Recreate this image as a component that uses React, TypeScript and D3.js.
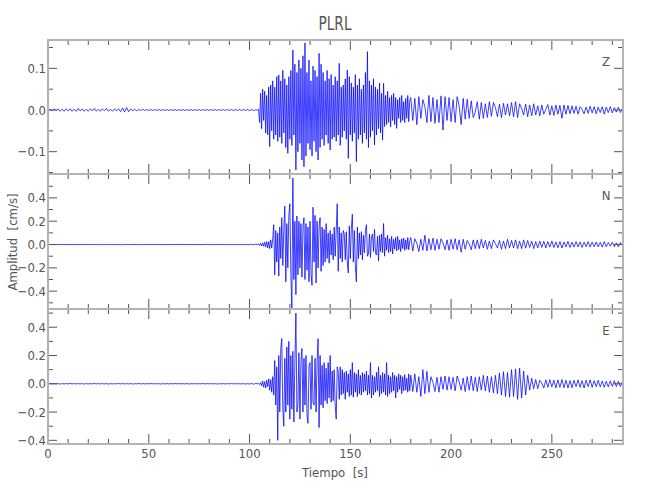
import React from 'react';
import * as d3 from 'd3';

// Station / channel info
const title = 'PLRL';
const channels = ['Z', 'N', 'E'];
const xTickLabels = ['0', '50', '100', '150', '200', '250'];

// Amplitudes in 1e-3 cm/s
// pre-event: t = 0..103 s (1 s step)
const zPre = [
  0, 2, -2, 3, -2, 3, -3, 2, -3, 3,
  -2, 3, -3, 2, -3, 4, -2, 3, -3, 2,
  -3, 3, -2, 4, -3, 2, -3, 3, -2, 4,
  -3, 2, -3, 3, -2, 3, -4, 5, -5, 6,
  -4, 3, -2, 2, -2, 1, -1, 2, -1, 1,
  -1, 1, -1, 1, -1, 1, -1, 1, -1, 1,
  -1, 1, -1, 1, -1, 1, -1, 1, -1, 1,
  -1, 1, -1, 1, -1, 1, -1, 1, -1, 1,
  -1, 1, -1, 1, -1, 1, -1, 1, -1, 1,
  -1, 1, -1, 1, -1, 1, -1, 1, -1, 1,
  -1, 1, -1, 0,
];
// main phase: t = 104..179.5 s (0.5 s step)
const zMain = [
  0, 2, -30, 40, -45, 50, -25, 45, -55, 35,
  -60, 55, -88, 60, -50, 70, -70, 55, -60, 80,
  -75, 84, -65, 70, -80, 95, -55, 75, -90, 60,
  -104, 80, -70, 95, -85, 144, -60, 110, -144, 90,
  -100, 120, -80, 100, -120, 130, -136, 161, -110, 90,
  -80, 120, -95, 70, -110, 105, -75, 95, -100, 80,
  -120, 136, -90, 110, -70, 90, -85, 70, -60, 95,
  -80, 75, -96, 85, -70, 60, -65, 80, -75, 70,
  -60, 112, -85, 55, -65, 60, -50, 75, -70, 96,
  -116, 80, -60, 65, -75, 55, -55, 85, -124, 60,
  -70, 75, -60, 50, -80, 60, -55, 90, -70, 140,
  -90, 70, -65, 60, -50, 75, -84, 55, -60, 50,
  -45, 65, -55, 40, -72, 64, -40, 35, -35, 45,
  -30, 30, -40, 35, -25, 40, -35, 30, -44, 25,
  -20, 30, -30, 35, -25, 20, -30, 28, -20, 35,
  -28, 25,
];
// coda: t = 180..285 s (1 s step)
const zCoda = [
  30, -25, 28, -35, 32, -20, 25, 8, -30, 35,
  -28, 30, -32, 25, -30, 34, -48, 32, -25, 30,
  -28, 25, -30, 32, 10, -35, 28, -22, 26, -20,
  22, -18, -5, 20, -22, 18, -20, 15, -18, 20,
  -15, 18, 6, -16, 14, -18, 16, -12, 15, -14,
  18, -16, 20, -18, 15, 4, -12, 14, -16, 12,
  -14, 15, -12, 10, -14, 12, -10, 2, 13, -12,
  10, -13, 12, -10, 11, -20, 12, -10, 11, -9,
  10, -8, 9, -10, 8, 2, -9, 7, -8, 9,
  -7, 8, -9, 7, -6, 8, -10, 7, -6, 8,
  -7, 6, -5, 7, -6, 4,
];

const nPre = [
  0, 1, -1, 1, -1, 2, -1, 1, -1, 1,
  -1, 1, -2, 1, -1, 1, -1, 2, -1, 1,
  -1, 1, -1, 1, -2, 1, -1, 1, -1, 2,
  -1, 1, -1, 2, -1, 1, -2, 1, -1, 1,
  -1, 2, -1, 1, -1, 1, -2, 1, -1, 1,
  -1, 1, -1, 2, -1, 1, -1, 1, -2, 1,
  -1, 1, -1, 1, -1, 2, -1, 1, -1, 1,
  -1, 1, -2, 1, -1, 1, -1, 1, -1, 2,
  -1, 1, -1, 1, -1, 1, -1, 1, -2, 1,
  -1, 1, -1, 1, -1, 1, -1, 2, -1, 1,
  -2, 2, -3, 3,
];
const nMain = [
  0, 5, -8, 10, -12, 15, -15, 20, -20, 25,
  -30, 25, -35, 40, -30, 50, 170, -260, 120, -150,
  100, -270, 150, -120, 230, -180, 120, 330, -320, 180,
  -200, 250, 350, -250, -550, 570, -300, 200, -430, 245,
  -260, 200, -200, 180, -280, 150, 230, -300, 180, -220,
  150, -320, 200, -250, -350, 320, -150, 250, -330, 200,
  -200, 150, 230, -230, 150, -180, 130, -150, 180, -120,
  100, -160, 120, -90, 90, -130, 150, -100, 120, 350,
  -230, 150, -120, 100, -150, 120, 90, -130, 110, -150,
  -245, 160, -120, 130, 260, -150, 120, -180, -320, 150,
  -120, 100, -90, 110, -130, 80, -70, 120, 170, -100,
  -80, 90, -110, 70, 90, -60, 130, -80, -90, 70,
  -140, 80, -60, 90, -70, 180, -100, 60, -50, 80,
  -70, 50, -60, 70, -80, 45, -40, 60, -55, 70,
  -45, 40, -60, 50, -35, 55, -50, 40, -40, 60,
  -45, 35,
];
const nCoda = [
  60, -55, 50, 10, -60, 45, -50, 80, -55, 50,
  -45, 55, -50, 45, -40, 50, 15, -45, 40, -50,
  45, -40, 50, -45, 40, -66, 45, -40, 35, 5,
  -45, 40, -35, 40, -35, 45, -30, 35, -40, 30,
  -35, 40, 8, -30, 35, -40, 30, -35, 45, -30,
  35, -30, 40, -35, 30, -35, 40, -30, 35, -25,
  30, -35, 25, -30, 30, -25, 28, -30, 25, -22,
  30, -25, 22, -28, 25, -30, 22, -20, 28, -25,
  20, -22, 25, -20, 22, -25, 20, -18, 25, -22,
  20, -18, 22, -20, 18, -22, 25, -20, 18, -15,
  20, -18, 15, -20, 18, -10,
];

const ePre = [
  0, 1, -1, 1, -1, 1, -2, 1, -1, 1,
  -1, 2, -1, 1, -1, 1, -1, 1, -2, 1,
  -1, 1, -1, 2, -1, 1, -1, 1, -1, 1,
  -2, 1, -1, 1, -1, 2, -1, 1, -1, 1,
  -1, 1, -2, 1, -1, 2, -1, 1, -1, 1,
  -1, 2, -1, 1, -1, 1, -2, 1, -1, 1,
  -1, 1, -1, 2, -1, 1, -1, 1, -1, 1,
  -2, 1, -1, 1, -1, 1, -1, 2, -1, 1,
  -1, 1, -1, 1, -2, 1, -1, 1, -1, 1,
  -1, 2, -1, 1, -1, 1, -1, 1, -2, 1,
  -2, 2, -3, 2,
];
const eMain = [
  0, 3, -5, 8, -15, 20, -25, 15, -30, 25,
  -20, 35, -45, 30, -60, 50, -80, 165, -150, 120,
  -400, 200, -200, 250, 320, -180, -300, 180, -200, 260,
  -150, 300, -250, 200, -180, 230, -270, 150, 500, -200,
  -150, 220, -250, 150, 250, -200, 180, -150, 200, -220,
  -280, 130, 150, -180, 200, -130, -150, 180, -200, 150,
  320, -310, 200, -150, 130, -170, 150, -120, 110, -140,
  150, -100, 200, -130, 90, -120, 100, -150, -250, 120,
  90, -110, 120, -80, 100, -70, 80, -110, 90, -60,
  70, -90, 100, -80, 150, -95, 80, -60, 70, -90,
  100, -70, 60, -80, 80, -60, 70, -50, 90, -80,
  60, -70, 150, -100, 60, -80, 50, -60, 80, -50,
  120, -90, 60, -70, 80, -60, 70, -80, 150, -90,
  60, -70, 50, -60, 80, -50, 60, -100, 50, -60,
  70, -40, 60, -70, 50, -50, 65, -45, 40, -60,
  70, -50,
];
const eCoda = [
  60, -55, 70, -60, 50, -90, 100, -70, 88, -60,
  50, 10, -55, 45, -60, 50, -40, 55, -45, 50,
  -40, 45, -50, 55, 12, -45, 40, -55, 50, -45,
  55, -50, 45, -55, 50, -45, 60, -50, 55, -60,
  50, -65, 60, -70, 75, -80, 85, -90, 80, -95,
  100, -90, 105, -110, 110, -100, 90, -80, 60, -45,
  40, -35, 30, -35, 25, 5, -30, 28, -25, 30,
  -22, 25, -30, 28, -25, 30, -28, 25, -30, 22,
  -28, 25, -20, 28, -25, 22, -30, 25, -20, 28,
  -25, 22, -20, 25, -22, 20, -25, 18, -22, 20,
  -18, 22, -20, 18, -20, 15,
];

// y tick values per channel
const zMajor = [-0.1, 0, 0.1];
const zMinor = [-0.15, -0.05, 0.05, 0.15];
const nMajor = [-0.4, -0.2, 0, 0.2, 0.4];
const nMinor = [-0.5, -0.3, -0.1, 0.1, 0.3, 0.5];
const eMajor = [-0.4, -0.2, 0, 0.2, 0.4];
const eMinor = [-0.3, -0.1, 0.1, 0.3, 0.5];

const W = 650;
const H = 500;
const X0 = 48;
const X1 = 623;
const FONT = "'DejaVu Sans Condensed', 'Liberation Sans Narrow', sans-serif";
const AXIS = '#b4b4b4';
const TICK = '#555';
const TEXT = '#555';

function buildSeries(pre: number[], main: number[], coda: number[]) {
  const pts: [number, number][] = [];
  pre.forEach((v, i) => pts.push([i, v / 1000]));
  main.forEach((v, i) => pts.push([104 + i * 0.5, v / 1000]));
  coda.forEach((v, i) => pts.push([180 + i, v / 1000]));
  return pts;
}

const panels = [
  { name: channels[0], top: 40, bottom: 174, domain: [-0.1535, 0.168], major: zMajor, minor: zMinor, data: buildSeries(zPre, zMain, zCoda) },
  { name: channels[1], top: 174, bottom: 309, domain: [-0.553, 0.605], major: nMajor, minor: nMinor, data: buildSeries(nPre, nMain, nCoda) },
  { name: channels[2], top: 309, bottom: 444, domain: [-0.426, 0.529], major: eMajor, minor: eMinor, data: buildSeries(ePre, eMain, eCoda) },
];

const fmt = d3.format('.1f');

export default function App() {
  const x = d3.scaleLinear().domain([0, 285.3]).range([X0, X1]);
  const xMinor = d3.range(10, 290, 10).filter((v) => v % 50 !== 0);
  const xMajor = xTickLabels.map(Number);

  return (
    <svg width={W} height={H} style={{ position: 'absolute', left: 0, top: 0, background: '#fff' }} fontFamily={FONT}>
      <defs>
        {panels.map((p, i) => (
          <clipPath id={`clip${i}`} key={i}>
            <rect x={X0} y={p.top} width={X1 - X0} height={p.bottom - p.top} />
          </clipPath>
        ))}
      </defs>
      <text x={335} y={30} textAnchor="middle" fontSize={20} fill={TEXT} textLength={33} lengthAdjust="spacingAndGlyphs">{title}</text>
      {panels.map((p, i) => {
        const y = d3.scaleLinear().domain(p.domain).range([p.bottom, p.top]);
        const line = d3.line<[number, number]>().x((d) => x(d[0])).y((d) => y(d[1]));
        return (
          <g key={i}>
            <path d={line(p.data) || ''} fill="none" stroke="#0000ff" strokeWidth={0.75} clipPath={`url(#clip${i})`} />
            {xMinor.map((t) => (
              <g key={`xm${t}`}>
                <line x1={x(t)} x2={x(t)} y1={p.top} y2={p.top + 5} stroke={TICK} strokeWidth={1} />
                <line x1={x(t)} x2={x(t)} y1={p.bottom} y2={p.bottom - 5} stroke={TICK} strokeWidth={1} />
              </g>
            ))}
            {xMajor.map((t) => (
              <g key={`xM${t}`}>
                <line x1={x(t)} x2={x(t)} y1={p.top} y2={p.top + 10} stroke={TICK} strokeWidth={1} />
                <line x1={x(t)} x2={x(t)} y1={p.bottom} y2={p.bottom - 10} stroke={TICK} strokeWidth={1} />
              </g>
            ))}
            {p.minor.map((v) => (
              <g key={`ym${v}`}>
                <line x1={X0} x2={X0 + 5} y1={y(v)} y2={y(v)} stroke={TICK} strokeWidth={1} />
                <line x1={X1} x2={X1 - 5} y1={y(v)} y2={y(v)} stroke={TICK} strokeWidth={1} />
              </g>
            ))}
            {p.major.map((v) => (
              <g key={`yM${v}`}>
                <line x1={X0} x2={X0 + 9} y1={y(v)} y2={y(v)} stroke={TICK} strokeWidth={1} />
                <line x1={X1} x2={X1 - 9} y1={y(v)} y2={y(v)} stroke={TICK} strokeWidth={1} />
                <text x={X0 - 2} y={y(v)} dy="0.35em" textAnchor="end" fontSize={13} fill={TEXT}>
                  {fmt(v).replace('-', '\u2212')}
                </text>
              </g>
            ))}
            <rect x={X0} y={p.top} width={X1 - X0} height={p.bottom - p.top} fill="none" stroke={AXIS} strokeWidth={2} />
            <text x={606} y={p.top + 26} textAnchor="middle" fontSize={13} fill={TEXT}>{p.name}</text>
          </g>
        );
      })}
      {xMajor.map((t, i) => (
        <text key={`xl${t}`} x={x(t)} y={458} textAnchor="middle" fontSize={13} fill={TEXT}>{xTickLabels[i]}</text>
      ))}
      <text x={335} y={477} textAnchor="middle" fontSize={13} fill={TEXT} style={{ whiteSpace: 'pre' }}>Tiempo  [s]</text>
      <text transform="translate(17,242) rotate(-90)" textAnchor="middle" fontSize={13} fill={TEXT} style={{ whiteSpace: 'pre' }}>Amplitud  [cm/s]</text>
    </svg>
  );
}
